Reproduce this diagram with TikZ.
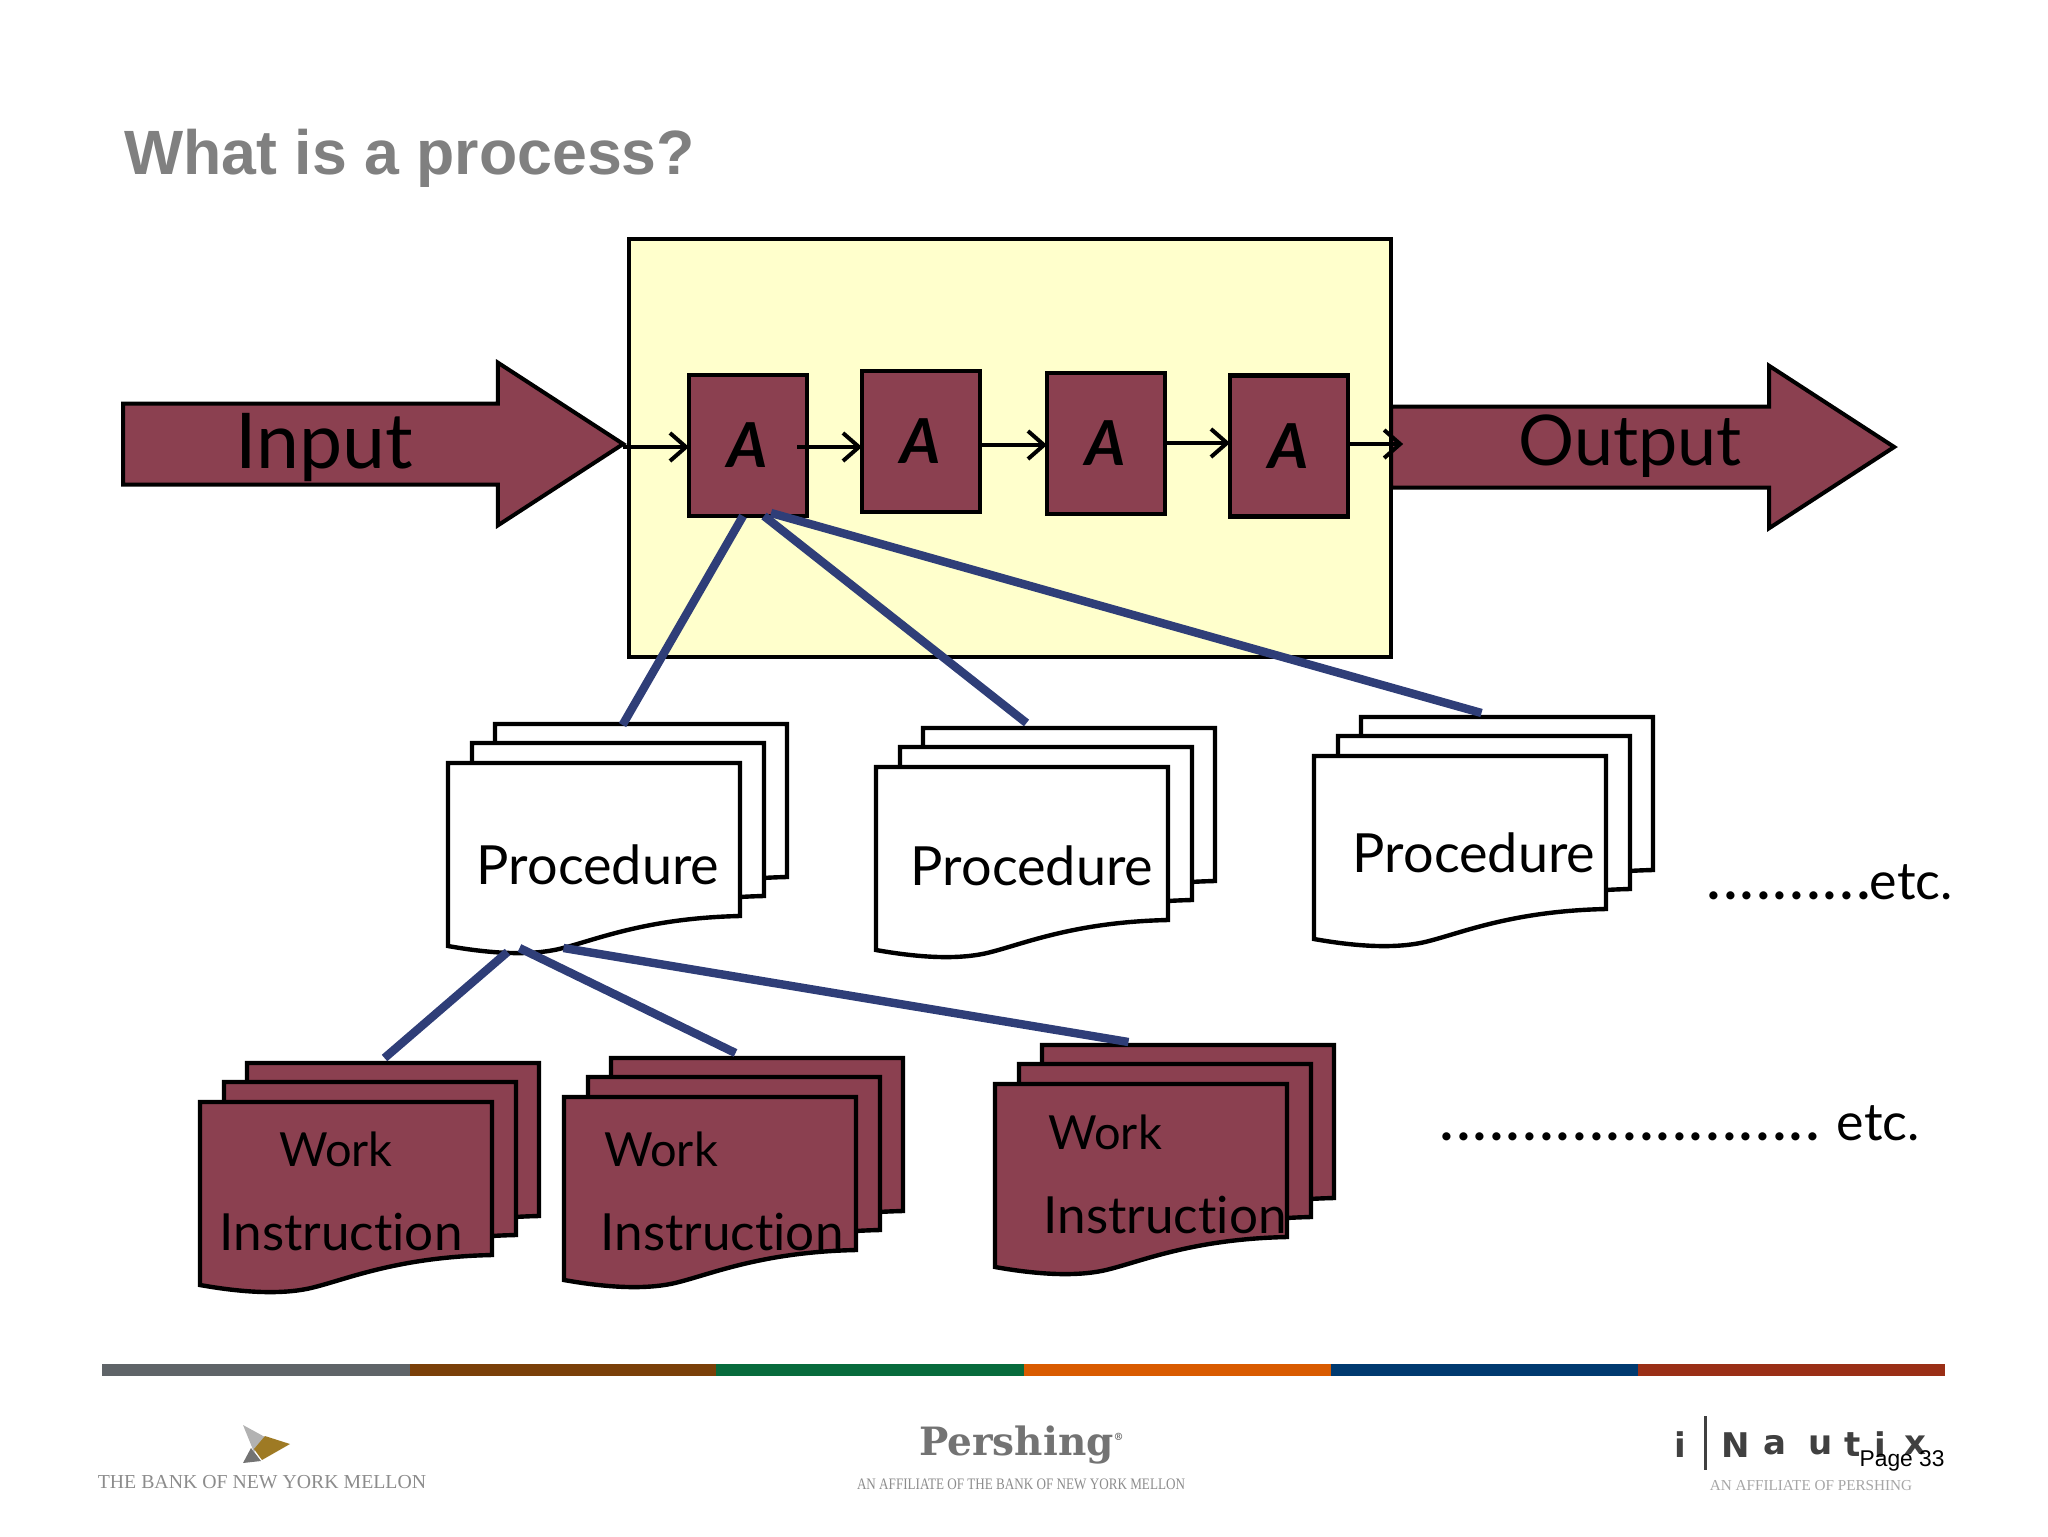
\documentclass[tikz,border=0pt]{standalone}
\usepackage{fontspec}
\setmainfont[Ligatures=NoCommon]{Lato}
\newfontfamily\arialfont{Liberation Sans}
\newfontfamily\timesfont{Liberation Serif}
\newfontfamily\slabfont{DejaVu Serif}
\newfontfamily\logofont{DejaVu Sans}
\usetikzlibrary{shapes.arrows, arrows.meta}

\definecolor{maroon}{HTML}{8B4050}
\definecolor{paleyellow}{HTML}{FFFFCC}
\definecolor{linkblue}{HTML}{2F3E78}

\tikzset{
    activity/.style = {draw, fill = maroon, line width = 2.3pt, inner sep = 0, outer sep = 0,
        minimum width = 59pt, minimum height = 70.5pt, font = \bfseries\itshape\fontsize{31}{31}\selectfont},
    bigarrow/.style = {draw, fill = maroon, line width = 2pt, single arrow, inner xsep = 0, inner ysep = 19.25pt, outer sep = 0,
        minimum width = 79pt, single arrow head extend = 20.4pt, single arrow tip angle = 66},
    flow/.style = {line width = 2pt, -{Straight Barb[length = 8pt, width = 14pt, line width = 2pt]}},
    link/.style = {linkblue, line width = 4.2pt},
    sheetline/.style = {draw = black, line width = 2.2pt},
    hand/.style = {inner sep = 0, font = \fontsize{27}{27}\selectfont},
    bigtext/.style = {inner sep = 0},
    foottext/.style = {inner sep = 0, text = black!45, font = \timesfont\fontsize{8}{8}\selectfont}
}

% One sheet, wavy lower edge.
\newcommand{\sheetpath}{(0,0) -- (292,0) -- (292,153) .. controls (200,155) and (150,176) .. (115,185)
    .. controls (85,193) and (45,191) .. (0,183) -- cycle}

% Stack of three sheets: name, x, y, fill.
\newcommand{\docstack}[4]{%
    \begin{scope}[shift = {(#2,#3)}]
        \foreach \dx/\dy in {47/-39, 24/-20, 0/0}{%
            \draw[sheetline, fill = #4, shift = {(\dx,\dy)}] \sheetpath;
        }
        \node[inner sep = 0, outer sep = 0, minimum width = 169.5pt, minimum height = 117.5pt] (#1) at (169.5,78.5) {};
    \end{scope}
}

% Wide-set dots in front of a text.
\newcommand{\widedots}[1]{{\bfseries\addfontfeature{LetterSpace=7}#1}}

\begin{document}
\begin{tikzpicture}[x = 0.5pt, y = -0.5pt]
    \useasboundingbox (0,0) rectangle (2048,1536);

    \node[anchor = west, inner sep = 0, text = black!50, font = \arialfont\bfseries\fontsize{31.3}{31.3}\selectfont]
        (title) at (124,158) {What is a process?};

    % Process box and the big arrows.
    \node[draw, fill = paleyellow, line width = 2pt, inner sep = 0, outer sep = 0,
        minimum width = 381pt, minimum height = 209pt] (process) at (1010,448) {};
    \node[bigarrow, minimum height = 250pt] (input) at (342,444) {};
    \node[bigarrow, minimum height = 251.5pt] (output) at (1611.5,447) {};
    \node[bigtext, font = \fontsize{38.5}{38.5}\selectfont] (inputlabel) at (324,447.5) {Input};
    \node[bigtext, font = \fontsize{35}{35}\selectfont] (outputlabel) at (1630,446) {Output};

    % Activities.
    \node[activity] (a1) at (748,445.5) {A};
    \node[activity] (a2) at (921,441.5) {A};
    \node[activity] (a3) at (1106,443.5) {A};
    \node[activity] (a4) at (1289,446) {A};

    % Arrows between activities.
    \draw[flow] (input.east |- 0,447) -- (a1.west |- 0,447);
    \draw[flow] ([xshift = -5pt]a1.east |- 0,447) -- (a2.west |- 0,447);
    \draw[flow] (a2.east |- 0,445) -- (a3.west |- 0,445);
    \draw[flow] (a3.east |- 0,443) -- (a4.west |- 0,443);
    \draw[flow] (a4.east |- 0,444) -- ([xshift = 6pt]output.west |- 0,444);

    % Procedures.
    \docstack{p1}{448}{763}{white}
    \docstack{p2}{876}{767}{white}
    \docstack{p3}{1314}{756}{white}
    \node[hand] (p1label) at (598,865) {Procedure};
    \node[hand] (p2label) at (1032,866) {Procedure};
    \node[hand] (p3label) at (1474,853) {Procedure};

    % Work instructions.
    \docstack{w1}{200}{1102}{maroon}
    \docstack{w2}{564}{1097}{maroon}
    \docstack{w3}{995}{1084}{maroon}
    \node[hand, font = \fontsize{23.5}{23.5}\selectfont] (w1top) at (336,1149) {Work};
    \node[hand, font = \fontsize{25.6}{25.6}\selectfont] (w1bot) at (341,1232) {Instruction};
    \node[hand, font = \fontsize{23.5}{23.5}\selectfont] (w2top) at (661,1149) {Work};
    \node[hand, font = \fontsize{25.6}{25.6}\selectfont] (w2bot) at (722,1232) {Instruction};
    \node[hand, font = \fontsize{23.5}{23.5}\selectfont] (w3top) at (1105,1132) {Work};
    \node[hand, font = \fontsize{25.6}{25.6}\selectfont] (w3bot) at (1165,1215) {Instruction};

    \node[hand, anchor = base west] (etcone) at (1707,899) {\widedots{..........}{\fontsize{26}{26}\selectfont etc.}};
    \node[hand, anchor = base west] (etctwo) at (1440,1140) {\widedots{.......................} {\fontsize{26}{26}\selectfont etc.}};

    % Links from activity to procedures to instructions.
    \draw[link] ([shift = {(-5,0)}]a1.south) -- ([shift = {(5,1)}]p1.north);
    \draw[link] ([shift = {(16,0)}]a1.south) -- ([shift = {(-19,-5)}]p2.north);
    \draw[link] ([shift = {(23,-3)}]a1.south) -- ([shift = {(-2,-4)}]p3.north);
    \draw[link] ([shift = {(-110,-7)}]p1.south) -- ([shift = {(15,-5)}]w1.north);
    \draw[link] ([shift = {(-98,-11)}]p1.south) -- ([shift = {(2,-5)}]w2.north);
    \draw[link] ([shift = {(-54,-11)}]p1.south) -- ([shift = {(-36,-3)}]w3.north);

    % Colour bar.
    \foreach \xa/\xb/\barcol in {102/410/5F6468, 410/716/7A3F08, 716/1024/076B3C,
        1024/1331/D95B00, 1331/1638/003A70, 1638/1945/9A2F16}{%
        \definecolor{barfill}{HTML}{\barcol}
        \fill[barfill] (\xa,1364) rectangle (\xb,1376);
    }

    % Footer logos.
    \fill[black!30] (243,1425) -- (265,1437) -- (254,1452) -- cycle;
    \fill[black!30!brown!80!yellow] (265,1436) -- (290,1444) -- (262,1460) -- (254,1449) -- cycle;
    \fill[black!55] (243,1463) -- (251,1448) -- (261,1461) -- cycle;
    \node[foottext, font = \timesfont\fontsize{9.9}{9.9}\selectfont] (bny) at (262,1482) {THE BANK OF NEW YORK MELLON};

    \node[inner sep = 0, text = black!55, font = \slabfont\bfseries\fontsize{19.5}{19.5}\selectfont] (pershing) at (1022,1445) {Pershing\textsuperscript{\tiny ®}};
    \node[foottext] (pershingsub) at (1021,1484) {\scalebox{0.82}[1]{AN AFFILIATE OF THE BANK OF NEW YORK MELLON}};

    \foreach \letter/\xpos in {i/1680, N/1736, a/1775, u/1821, t/1853, i/1880, x/1915}{%
        \node[inner sep = 0, text = black!75, font = \logofont\bfseries\fontsize{17}{17}\selectfont] (logo\xpos) at (\xpos,1445) {\letter};
    }
    \coordinate (bartop) at (1705,1416);
    \coordinate (barbot) at (1705,1470);
    \draw[black!75, line width = 1.5pt] (bartop) -- (barbot);
    \node[foottext, text = black!35, font = \timesfont\fontsize{7.6}{7.6}\selectfont] (nautixsub) at (1811,1486) {AN AFFILIATE OF PERSHING};

    \node[anchor = east, inner sep = 0, font = \arialfont\fontsize{11.4}{11.4}\selectfont] (page) at (1945,1460.5) {Page 33};
\end{tikzpicture}
\end{document}
